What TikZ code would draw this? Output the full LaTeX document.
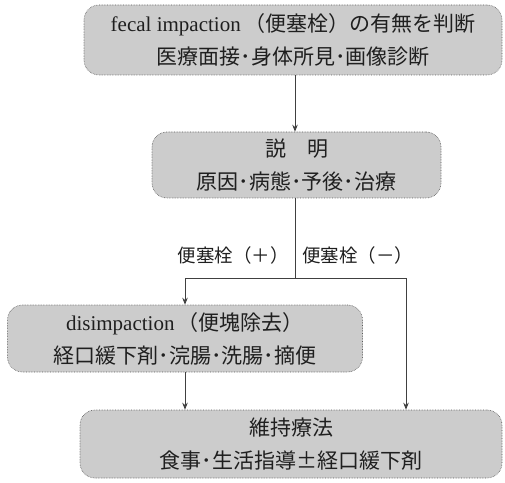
\documentclass[tikz,border=0pt]{standalone}
\usepackage{fontspec}
\setmainfont{Liberation Serif}
\newfontfamily\jp{Noto Sans CJK JP}
\usetikzlibrary{arrows.meta}
\definecolor{boxfill}{gray}{0.80}
\definecolor{boxline}{gray}{0.35}
\definecolor{txt}{gray}{0.12}
\definecolor{conn}{gray}{0.25}
\tikzset{
  flowbox/.style={draw=boxline, line width=0.6pt, densely dotted, fill=boxfill,
    rounded corners=15pt, inner sep=0pt, align=center, text=txt,
    font=\fontsize{21}{33}\selectfont},
  conline/.style={draw=conn, line width=0.8pt},
  conarrow/.style={conline, -{Stealth[length=7pt,width=5.5pt]}},
  branchlabel/.style={inner sep=0pt, text=txt, font=\jp\fontsize{18.5}{20}\selectfont}
}
\begin{document}
\begin{tikzpicture}[x=1pt,y=1pt]
\useasboundingbox (0,0) rectangle (505,482);
\node[flowbox, minimum width=418, minimum height=70] (b1) at (293,442)
  {fecal impaction\,{\jp（便塞栓）の有無を判断}\\{\jp 医療面接･身体所見･画像診断}};
\node[flowbox, minimum width=289, minimum height=66] (b2) at (296.5,317)
  {{\jp 説　明}\\{\jp 原因･病態･予後･治療}};
\node[flowbox, minimum width=355, minimum height=67] (b3) at (185,143.5)
  {disimpaction\,{\jp（便塊除去）}\\{\jp 経口緩下剤･浣腸･洗腸･摘便}};
\node[flowbox, minimum width=422, minimum height=68] (b4) at (291,38)
  {{\jp 維持療法}\\{\jp 食事･生活指導±経口緩下剤}};
\coordinate (sp) at (295,204);
\coordinate (rt) at (406,204);
\draw[conarrow] (b1.south -| sp) -- (b2.north -| sp);
\draw[conline] (b2.south -| sp) -- (sp);
\draw[conarrow] (sp) -| (b3.north);
\draw[conarrow] (sp) -- (rt) -- (rt |- b4.north);
\draw[conarrow] (b3.south) -- (b3.south |- b4.north);
\node[branchlabel, anchor=east] (lp) at (289,227) {便塞栓（＋）};
\node[branchlabel, anchor=west] (lm) at (302,227) {便塞栓（－）};
\end{tikzpicture}
\end{document}
